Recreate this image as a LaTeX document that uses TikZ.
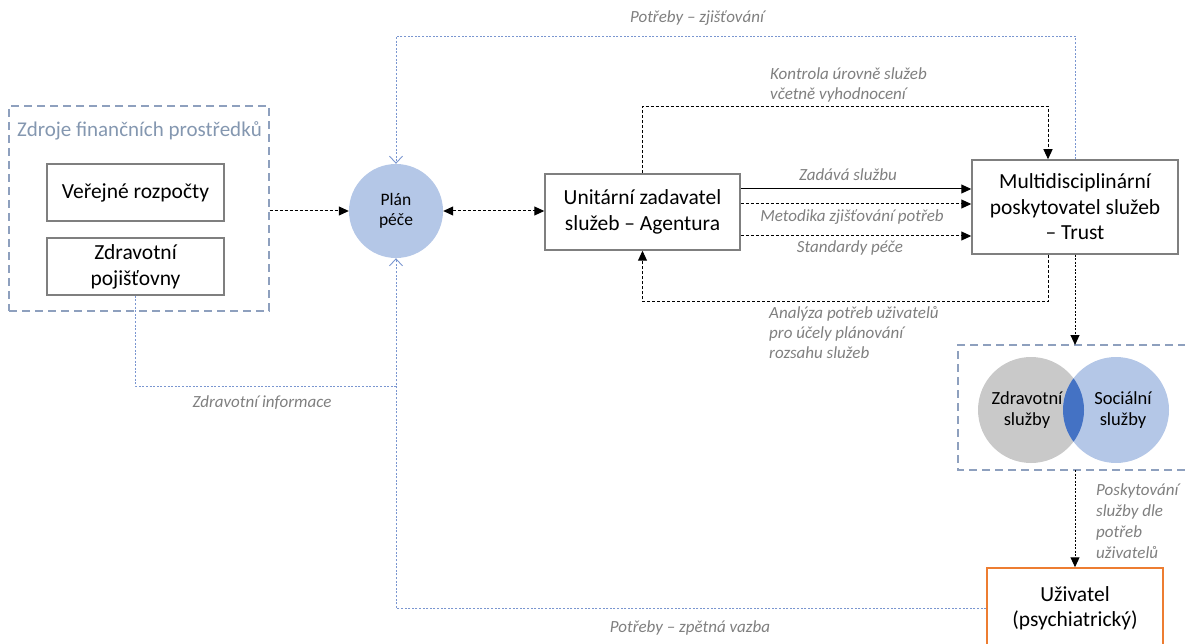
\documentclass[tikz,border=0pt]{standalone}
\usepackage{fontspec}
\setmainfont{Carlito}
\usetikzlibrary{arrows.meta}
\definecolor{boxgray}{HTML}{7F7F7F}
\definecolor{framebl}{HTML}{8EA0BE}
\definecolor{titlebl}{HTML}{8497B0}
\definecolor{linkbl}{HTML}{7A96D0}
\definecolor{lblgray}{HTML}{7F7F7F}
\definecolor{planbl}{HTML}{B4C7E7}
\definecolor{healthgr}{HTML}{C9C9C9}
\definecolor{overlapbl}{HTML}{4472C4}
\definecolor{userorg}{HTML}{ED7D31}
\tikzset{
  unit/.style={draw=boxgray, line width=1.5pt, fill=white, align=center,
    font=\fontsize{21.5}{26}\selectfont, inner sep=2pt},
  frame/.style={draw=framebl, line width=1.4pt, dash pattern=on 8pt off 5pt},
  flow/.style={black, line width=1pt, dash pattern=on 3pt off 2pt,
    -{Triangle[length=10pt,width=9pt]}},
  solidflow/.style={black, line width=1pt, -{Triangle[length=10pt,width=9pt]}},
  info/.style={linkbl, line width=0.9pt, dash pattern=on 2pt off 1.6pt},
  infoarrow/.style={info, -{Straight Barb[length=7pt,width=13pt,line width=0.9pt]}},
  lbl/.style={lblgray, font=\fontsize{17}{20}\selectfont\itshape, inner sep=0pt},
}
\begin{document}
\begin{tikzpicture}[x=1pt,y=-1pt]
\useasboundingbox (0,0) rectangle (1185,644);

% funding sources
\node[frame, minimum width=260pt, minimum height=205pt] (fin) at (139,208.5) {};
\node[titlebl, font=\fontsize{21}{24}\selectfont, inner sep=0pt] (fintitle) at (139.5,131) {Zdroje finančních prostředků};
\node[unit, minimum width=177pt, minimum height=57pt] (ver) at (135.5,192.5) {Veřejné rozpočty};
\node[unit, minimum width=177pt, minimum height=57pt] (zdp) at (135.5,266.5) {Zdravotní\\pojišťovny};

% care plan
\node[circle, fill=planbl, minimum size=94pt, align=center, inner sep=0pt,
  font=\fontsize{17.5}{20}\selectfont] (plan) at (396,211) {Plán\\péče};

% commissioner and provider
\node[unit, minimum width=195pt, minimum height=76pt] (una) at (642.5,212) {Unitární zadavatel\\služeb – Agentura};
\node[unit, minimum width=206pt, minimum height=94pt, font=\fontsize{21.5}{25.5}\selectfont] (multi) at (1075,207) {Multidisciplinární\\poskytovatel služeb\\– Trust};

% services
\draw[frame] (1186,345) -- (958,345) -- (958,470) -- (1186,470);
\coordinate (svcN) at (1075,345);
\coordinate (svcS) at (1075,470);
\node[circle, fill=healthgr, minimum size=106pt, inner sep=0pt] (hc) at (1031,410) {};
\node[circle, fill=planbl, minimum size=106pt, inner sep=0pt] (sc) at (1116,410) {};
\begin{scope}
  \clip (1031,410) circle (53pt);
  \fill[overlapbl] (1116,410) circle (53pt);
\end{scope}
\node[align=center, font=\fontsize{18.5}{21}\selectfont, inner sep=0pt] (hct) at (1027,410) {Zdravotní\\služby};
\node[align=center, font=\fontsize{18.5}{21}\selectfont, inner sep=0pt] (sct) at (1123,410) {Sociální\\služby};

% user
\node[draw=userorg, line width=1.5pt, fill=white, minimum width=176pt, minimum height=80pt,
  align=center, font=\fontsize{21.5}{25}\selectfont] (uziv) at (1075,608) {Uživatel\\(psychiatrický)};

% black flows
\draw[flow] (fin.east |- plan) -- (plan.west);
\draw[flow, {Triangle[length=10pt,width=9pt]}-{Triangle[length=10pt,width=9pt]}] (plan.east) -- (una.west |- plan);
\draw[solidflow] (una.east |- 0,189) -- (multi.west |- 0,189);
\draw[flow] (una.east |- 0,204) -- (multi.west |- 0,204);
\draw[flow] (una.east |- 0,236) -- (multi.west |- 0,236);
\draw[flow] (una.north) -- ++(0,-67) -| ([xshift=-27pt]multi.north);
\draw[flow] ([xshift=-27pt]multi.south) -- ++(0,47) -| (una.south);
\draw[flow, dash pattern=on 2pt off 1.5pt] (multi.south) -- (svcN);
\draw[flow, dash pattern=on 2pt off 1.5pt] (svcS) -- (uziv.north);

% information links
\draw[infoarrow] (multi.north) -- ++(0,-123) -| (plan.north);
\draw[infoarrow] (uziv.west) -| (plan.south);
\draw[info] (zdp.south) |- (plan.south |- 0,386);

% labels
\node[lbl] (l1) at (697,18) {Potřeby – zjišťování};
\node[lbl, align=left, anchor=west] (l2) at (770,85) {Kontrola úrovně služeb\\včetně vyhodnocení};
\node[lbl] (l3) at (848,175) {Zadává službu};
\node[lbl] (l4) at (852,217) {Metodika zjišťování potřeb};
\node[lbl] (l5) at (850,248) {Standardy péče};
\node[lbl, align=left, anchor=west] (l6) at (769,333) {Analýza potřeb uživatelů\\pro účely plánování\\rozsahu služeb};
\node[lbl] (l7) at (262,403) {Zdravotní informace};
\node[lbl, align=left, anchor=west, font=\fontsize{17}{21}\selectfont\itshape] (l8) at (1096,521) {Poskytování\\služby dle\\potřeb\\uživatelů};
\node[lbl] (l9) at (690,628) {Potřeby – zpětná vazba};
\end{tikzpicture}
\end{document}
